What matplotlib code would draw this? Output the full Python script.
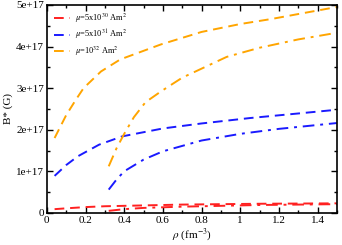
import matplotlib
matplotlib.use("Agg")
import matplotlib.pyplot as plt
from matplotlib.ticker import MultipleLocator, FuncFormatter

plt.rcParams['font.family'] = ['Liberation Serif', 'DejaVu Serif']
plt.rcParams['mathtext.fontset'] = 'stix'

# mu = 5x10^30 Am^2
rho_r = [0.04, 0.1, 0.2, 0.3, 0.5, 0.7, 0.9, 1.1, 1.3, 1.5]
B_r = [0.09e17, 0.11e17, 0.14e17, 0.16e17, 0.18e17, 0.20e17, 0.21e17, 0.22e17, 0.225e17, 0.23e17]
rho_r2 = [0.32, 0.4, 0.5, 0.7, 0.9, 1.1, 1.3, 1.5]
B_r2 = [0.05e17, 0.09e17, 0.12e17, 0.15e17, 0.17e17, 0.19e17, 0.20e17, 0.21e17]

# mu = 5x10^31 Am^2
rho_b = [0.04, 0.1, 0.16, 0.27, 0.39, 0.6, 0.8, 1.05, 1.3, 1.5]
B_b = [0.89e17, 1.15e17, 1.36e17, 1.64e17, 1.84e17, 2.03e17, 2.15e17, 2.28e17, 2.39e17, 2.48e17]
rho_b2 = [0.32, 0.36, 0.4, 0.5, 0.6, 0.8, 1.0, 1.2, 1.5]
B_b2 = [0.56e17, 0.8e17, 1.0e17, 1.28e17, 1.48e17, 1.74e17, 1.9e17, 2.02e17, 2.16e17]

# mu = 10^32 Am^2
rho_o = [0.04, 0.1, 0.15, 0.19, 0.28, 0.38, 0.59, 0.8, 1.0, 1.16, 1.3, 1.5]
B_o = [1.8e17, 2.35e17, 2.72e17, 3.0e17, 3.4e17, 3.69e17, 4.05e17, 4.35e17, 4.54e17, 4.66e17, 4.78e17, 4.95e17]
rho_o2 = [0.32, 0.36, 0.4, 0.45, 0.51, 0.59, 0.7, 0.93, 1.1, 1.3, 1.5]
B_o2 = [1.12e17, 1.55e17, 1.9e17, 2.3e17, 2.66e17, 2.92e17, 3.25e17, 3.75e17, 3.97e17, 4.17e17, 4.33e17]

labels = [r'$\mu$=5x10$^{30}$ Am$^2$', r'$\mu$=5x10$^{31}$ Am$^2$', r'$\mu$=10$^{32}$ Am$^2$']
colors = ['#ff2020', '#1a1aff', '#ffa500']

fig = plt.figure(figsize=(3.42, 2.45), dpi=100)
ax = fig.add_axes([0.137, 0.131, 0.848, 0.849])

dash = (0, (5, 3))
dashdot = (0, (6, 3, 1.5, 3))
ax.plot(rho_r, B_r, color=colors[0], lw=1.4, linestyle=dash, label=labels[0])
ax.plot(rho_b, B_b, color=colors[1], lw=1.4, linestyle=dash, label=labels[1])
ax.plot(rho_o, B_o, color=colors[2], lw=1.4, linestyle=dash, label=labels[2])
ax.plot(rho_r2, B_r2, color=colors[0], lw=1.4, linestyle=dashdot)
ax.plot(rho_b2, B_b2, color=colors[1], lw=1.4, linestyle=dashdot)
ax.plot(rho_o2, B_o2, color=colors[2], lw=1.4, linestyle=dashdot)

ax.set_xlim(0, 1.5)
ax.set_ylim(0, 5e17)
ax.xaxis.set_major_locator(MultipleLocator(0.2))
ax.xaxis.set_minor_locator(MultipleLocator(0.1))
ax.yaxis.set_major_locator(MultipleLocator(1e17))
ax.yaxis.set_minor_locator(MultipleLocator(0.5e17))
ax.xaxis.set_major_formatter(FuncFormatter(lambda v, p: '%g' % round(v, 1)))
ax.yaxis.set_major_formatter(FuncFormatter(lambda v, p: '0' if v == 0 else '%de+17' % round(v / 1e17)))
ax.tick_params(which='both', direction='in', top=True, right=True, labelsize=8, pad=2)
ax.tick_params(which='major', length=4.5, width=1)
ax.tick_params(which='minor', length=2.5, width=1)
for s in ax.spines.values():
    s.set_linewidth(1.2)

ax.set_xlabel(r'$\rho$ (fm$^{-3}$)', fontsize=8, labelpad=1)
ax.set_ylabel('B* (G)', fontsize=8, labelpad=2)

ax.legend(loc='upper left', frameon=False, fontsize=6, handlelength=2.0,
          labelspacing=0.35, borderaxespad=0.4, handletextpad=0.6)

fig.savefig('out.png', dpi=100)
